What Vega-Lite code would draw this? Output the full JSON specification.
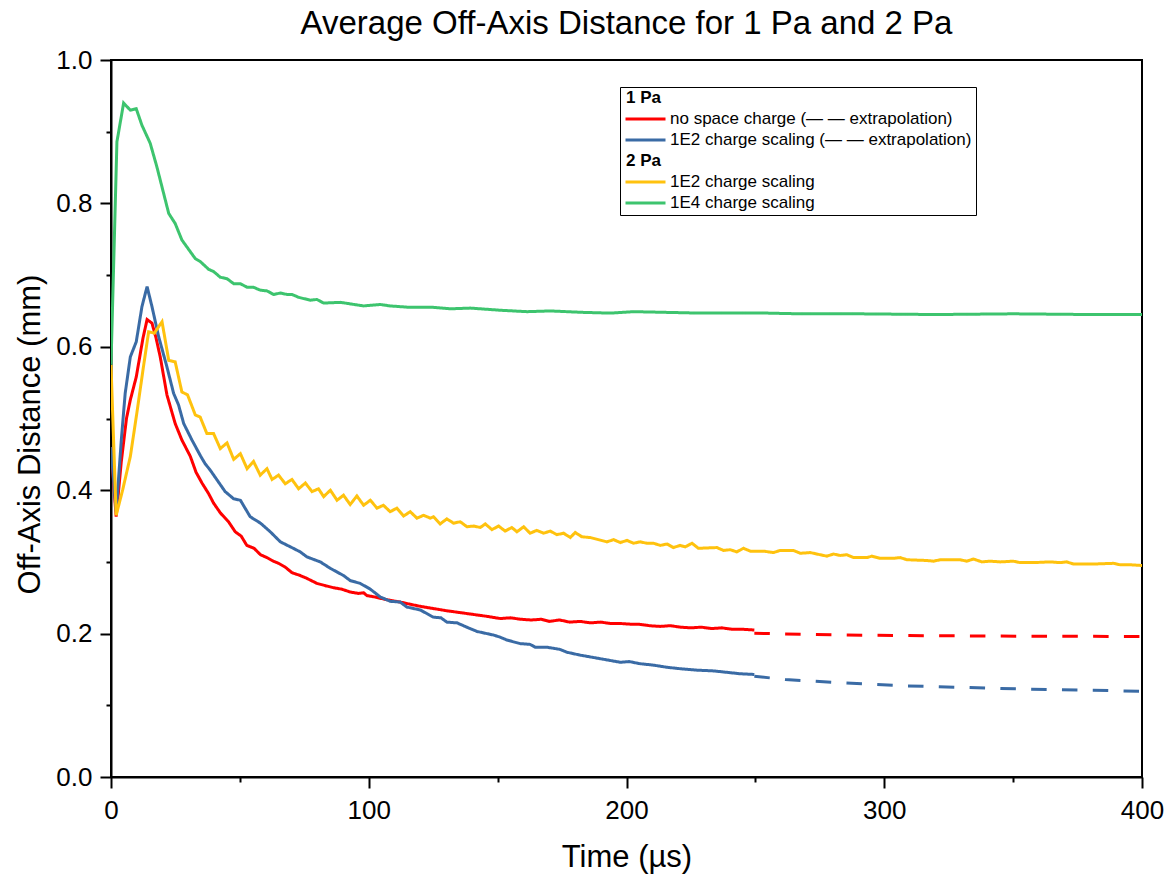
{
"$schema": "https://vega.github.io/schema/vega-lite/v6.json",
"autosize": {"type": "none"},
"padding": {"left": 111, "top": 60, "right": 29, "bottom": 104},
"width": 1031,
"height": 717,
"background": "white",
"title": {"text": "Average Off-Axis Distance for 1 Pa and 2 Pa", "font": "Liberation Sans", "fontSize": 33, "fontWeight": "normal", "color": "black", "anchor": "middle", "frame": "group", "baseline": "top", "offset": 6},
"config": {
  "view": {"stroke": "black", "strokeWidth": 2},
  "axis": {"domainColor": "black", "domainWidth": 2, "tickColor": "black", "tickWidth": 2, "labelColor": "black", "titleColor": "black", "labelFont": "Liberation Sans", "titleFont": "Liberation Sans", "labelFontSize": 26, "titleFontSize": 31, "titleFontWeight": "normal", "grid": false}
},
"data": {"values": [
{"s":"a","p":"solid","t":0,"y":0.46},{"s":"a","p":"solid","t":2,"y":0.363},{"s":"a","p":"solid","t":4,"y":0.44},{"s":"a","p":"solid","t":6,"y":0.5},{"s":"a","p":"solid","t":7.5,"y":0.526},{"s":"a","p":"solid","t":9.8,"y":0.558},{"s":"a","p":"solid","t":12.4,"y":0.612},{"s":"a","p":"solid","t":14,"y":0.638},{"s":"a","p":"solid","t":15.9,"y":0.633},{"s":"a","p":"solid","t":17.5,"y":0.612},{"s":"a","p":"solid","t":19.1,"y":0.586},{"s":"a","p":"solid","t":21.7,"y":0.533},{"s":"a","p":"solid","t":24.9,"y":0.493},{"s":"a","p":"solid","t":27.5,"y":0.47},{"s":"a","p":"solid","t":30.8,"y":0.447},{"s":"a","p":"solid","t":33,"y":0.425},{"s":"a","p":"solid","t":35.3,"y":0.41},{"s":"a","p":"solid","t":37.9,"y":0.395},{"s":"a","p":"solid","t":39.8,"y":0.382},{"s":"a","p":"solid","t":42.5,"y":0.368},{"s":"a","p":"solid","t":45.6,"y":0.356},{"s":"a","p":"solid","t":48.2,"y":0.342},{"s":"a","p":"solid","t":50.5,"y":0.336},{"s":"a","p":"solid","t":52.7,"y":0.323},{"s":"a","p":"solid","t":55.5,"y":0.319},{"s":"a","p":"solid","t":58,"y":0.31},{"s":"a","p":"solid","t":60.5,"y":0.306},{"s":"a","p":"solid","t":63,"y":0.301},{"s":"a","p":"solid","t":65,"y":0.298},{"s":"a","p":"solid","t":67.5,"y":0.293},{"s":"a","p":"solid","t":70.2,"y":0.285},{"s":"a","p":"solid","t":73.4,"y":0.281},{"s":"a","p":"solid","t":76,"y":0.277},{"s":"a","p":"solid","t":79.9,"y":0.27},{"s":"a","p":"solid","t":83,"y":0.267},{"s":"a","p":"solid","t":86.3,"y":0.264},{"s":"a","p":"solid","t":89.5,"y":0.262},{"s":"a","p":"solid","t":92.8,"y":0.258},{"s":"a","p":"solid","t":96,"y":0.256},{"s":"a","p":"solid","t":98,"y":0.257},{"s":"a","p":"solid","t":99.3,"y":0.253},{"s":"a","p":"solid","t":102.5,"y":0.251},{"s":"a","p":"solid","t":106,"y":0.248},{"s":"a","p":"solid","t":109,"y":0.246},{"s":"a","p":"solid","t":112.2,"y":0.244},{"s":"a","p":"solid","t":116,"y":0.241},{"s":"a","p":"solid","t":120,"y":0.238},{"s":"a","p":"solid","t":125,"y":0.235},{"s":"a","p":"solid","t":130,"y":0.232},{"s":"a","p":"solid","t":134,"y":0.23},{"s":"a","p":"solid","t":138,"y":0.228},{"s":"a","p":"solid","t":142,"y":0.226},{"s":"a","p":"solid","t":146,"y":0.224},{"s":"a","p":"solid","t":151,"y":0.221},{"s":"a","p":"solid","t":155,"y":0.222},{"s":"a","p":"solid","t":159,"y":0.22},{"s":"a","p":"solid","t":163,"y":0.219},{"s":"a","p":"solid","t":167,"y":0.22},{"s":"a","p":"solid","t":170,"y":0.217},{"s":"a","p":"solid","t":174,"y":0.219},{"s":"a","p":"solid","t":178,"y":0.216},{"s":"a","p":"solid","t":182,"y":0.217},{"s":"a","p":"solid","t":186,"y":0.215},{"s":"a","p":"solid","t":190,"y":0.216},{"s":"a","p":"solid","t":194,"y":0.214},{"s":"a","p":"solid","t":198,"y":0.214},{"s":"a","p":"solid","t":202,"y":0.213},{"s":"a","p":"solid","t":205,"y":0.213},{"s":"a","p":"solid","t":209,"y":0.211},{"s":"a","p":"solid","t":213,"y":0.21},{"s":"a","p":"solid","t":217,"y":0.211},{"s":"a","p":"solid","t":221,"y":0.209},{"s":"a","p":"solid","t":225,"y":0.208},{"s":"a","p":"solid","t":229,"y":0.209},{"s":"a","p":"solid","t":233,"y":0.207},{"s":"a","p":"solid","t":237,"y":0.208},{"s":"a","p":"solid","t":241,"y":0.206},{"s":"a","p":"solid","t":245,"y":0.206},{"s":"a","p":"solid","t":249.6,"y":0.205},
{"s":"a","p":"dash","t":249.6,"y":0.2005},{"s":"a","p":"dash","t":261,"y":0.1995},{"s":"a","p":"dash","t":285,"y":0.198},{"s":"a","p":"dash","t":320,"y":0.197},{"s":"a","p":"dash","t":345,"y":0.1965},{"s":"a","p":"dash","t":400,"y":0.196},
{"s":"b","p":"solid","t":0,"y":0.46},{"s":"b","p":"solid","t":2,"y":0.37},{"s":"b","p":"solid","t":4,"y":0.47},{"s":"b","p":"solid","t":5.5,"y":0.535},{"s":"b","p":"solid","t":7.5,"y":0.586},{"s":"b","p":"solid","t":9.8,"y":0.607},{"s":"b","p":"solid","t":12,"y":0.656},{"s":"b","p":"solid","t":14,"y":0.684},{"s":"b","p":"solid","t":15.9,"y":0.656},{"s":"b","p":"solid","t":18.5,"y":0.614},{"s":"b","p":"solid","t":21.7,"y":0.572},{"s":"b","p":"solid","t":24.3,"y":0.535},{"s":"b","p":"solid","t":26.2,"y":0.519},{"s":"b","p":"solid","t":28.2,"y":0.493},{"s":"b","p":"solid","t":31.4,"y":0.47},{"s":"b","p":"solid","t":34.7,"y":0.448},{"s":"b","p":"solid","t":36.5,"y":0.437},{"s":"b","p":"solid","t":38.5,"y":0.428},{"s":"b","p":"solid","t":41,"y":0.415},{"s":"b","p":"solid","t":44.3,"y":0.398},{"s":"b","p":"solid","t":47.6,"y":0.388},{"s":"b","p":"solid","t":50.2,"y":0.386},{"s":"b","p":"solid","t":54,"y":0.363},{"s":"b","p":"solid","t":58,"y":0.354},{"s":"b","p":"solid","t":61.8,"y":0.342},{"s":"b","p":"solid","t":65.7,"y":0.328},{"s":"b","p":"solid","t":69.6,"y":0.321},{"s":"b","p":"solid","t":73.4,"y":0.314},{"s":"b","p":"solid","t":76,"y":0.307},{"s":"b","p":"solid","t":81.2,"y":0.3},{"s":"b","p":"solid","t":85.1,"y":0.291},{"s":"b","p":"solid","t":90.2,"y":0.281},{"s":"b","p":"solid","t":92.8,"y":0.274},{"s":"b","p":"solid","t":96.7,"y":0.27},{"s":"b","p":"solid","t":100.6,"y":0.262},{"s":"b","p":"solid","t":104.5,"y":0.251},{"s":"b","p":"solid","t":108.4,"y":0.245},{"s":"b","p":"solid","t":112.2,"y":0.244},{"s":"b","p":"solid","t":114.8,"y":0.237},{"s":"b","p":"solid","t":120,"y":0.233},{"s":"b","p":"solid","t":125,"y":0.223},{"s":"b","p":"solid","t":128,"y":0.222},{"s":"b","p":"solid","t":130.3,"y":0.216},{"s":"b","p":"solid","t":134.2,"y":0.215},{"s":"b","p":"solid","t":138,"y":0.209},{"s":"b","p":"solid","t":142,"y":0.203},{"s":"b","p":"solid","t":145.8,"y":0.2},{"s":"b","p":"solid","t":148.4,"y":0.198},{"s":"b","p":"solid","t":151,"y":0.195},{"s":"b","p":"solid","t":153.6,"y":0.191},{"s":"b","p":"solid","t":158.8,"y":0.186},{"s":"b","p":"solid","t":162.6,"y":0.185},{"s":"b","p":"solid","t":164.6,"y":0.181},{"s":"b","p":"solid","t":169.1,"y":0.181},{"s":"b","p":"solid","t":174.2,"y":0.178},{"s":"b","p":"solid","t":176.9,"y":0.174},{"s":"b","p":"solid","t":182,"y":0.17},{"s":"b","p":"solid","t":189.8,"y":0.165},{"s":"b","p":"solid","t":197.6,"y":0.16},{"s":"b","p":"solid","t":201,"y":0.161},{"s":"b","p":"solid","t":205.3,"y":0.158},{"s":"b","p":"solid","t":210.5,"y":0.156},{"s":"b","p":"solid","t":215.7,"y":0.153},{"s":"b","p":"solid","t":220.9,"y":0.151},{"s":"b","p":"solid","t":227.3,"y":0.149},{"s":"b","p":"solid","t":233.7,"y":0.148},{"s":"b","p":"solid","t":238.9,"y":0.146},{"s":"b","p":"solid","t":244.1,"y":0.144},{"s":"b","p":"solid","t":249.6,"y":0.143},
{"s":"b","p":"dash","t":249.6,"y":0.1405},{"s":"b","p":"dash","t":261.6,"y":0.136},{"s":"b","p":"dash","t":285,"y":0.131},{"s":"b","p":"dash","t":309,"y":0.127},{"s":"b","p":"dash","t":333,"y":0.1247},{"s":"b","p":"dash","t":357,"y":0.1224},{"s":"b","p":"dash","t":381,"y":0.121},{"s":"b","p":"dash","t":400,"y":0.1195},
{"s":"c","p":"solid","t":0,"y":0.575},{"s":"c","p":"solid","t":2,"y":0.365},{"s":"c","p":"solid","t":4.5,"y":0.4},{"s":"c","p":"solid","t":7.5,"y":0.447},{"s":"c","p":"solid","t":10,"y":0.507},{"s":"c","p":"solid","t":12.5,"y":0.57},{"s":"c","p":"solid","t":14.6,"y":0.621},{"s":"c","p":"solid","t":16.8,"y":0.619},{"s":"c","p":"solid","t":19.8,"y":0.635},{"s":"c","p":"solid","t":22.4,"y":0.581},{"s":"c","p":"solid","t":24.9,"y":0.579},{"s":"c","p":"solid","t":27.5,"y":0.537},{"s":"c","p":"solid","t":29.7,"y":0.533},{"s":"c","p":"solid","t":32.7,"y":0.505},{"s":"c","p":"solid","t":34.6,"y":0.502},{"s":"c","p":"solid","t":37.2,"y":0.479},{"s":"c","p":"solid","t":39.8,"y":0.479},{"s":"c","p":"solid","t":42.4,"y":0.458},{"s":"c","p":"solid","t":45,"y":0.466},{"s":"c","p":"solid","t":47.6,"y":0.443},{"s":"c","p":"solid","t":50.2,"y":0.451},{"s":"c","p":"solid","t":52.8,"y":0.43},{"s":"c","p":"solid","t":55.3,"y":0.44},{"s":"c","p":"solid","t":57.9,"y":0.421},{"s":"c","p":"solid","t":60.5,"y":0.43},{"s":"c","p":"solid","t":62.5,"y":0.415},{"s":"c","p":"solid","t":65,"y":0.421},{"s":"c","p":"solid","t":67.6,"y":0.409},{"s":"c","p":"solid","t":70.2,"y":0.415},{"s":"c","p":"solid","t":72.8,"y":0.402},{"s":"c","p":"solid","t":75.4,"y":0.41},{"s":"c","p":"solid","t":78,"y":0.398},{"s":"c","p":"solid","t":80.5,"y":0.402},{"s":"c","p":"solid","t":82.5,"y":0.391},{"s":"c","p":"solid","t":85.1,"y":0.4},{"s":"c","p":"solid","t":87.7,"y":0.386},{"s":"c","p":"solid","t":90.2,"y":0.393},{"s":"c","p":"solid","t":92.8,"y":0.38},{"s":"c","p":"solid","t":95.4,"y":0.392},{"s":"c","p":"solid","t":98,"y":0.379},{"s":"c","p":"solid","t":100.6,"y":0.386},{"s":"c","p":"solid","t":103.2,"y":0.375},{"s":"c","p":"solid","t":105.7,"y":0.379},{"s":"c","p":"solid","t":108.3,"y":0.37},{"s":"c","p":"solid","t":110.9,"y":0.375},{"s":"c","p":"solid","t":113.5,"y":0.364},{"s":"c","p":"solid","t":116.1,"y":0.37},{"s":"c","p":"solid","t":118.7,"y":0.361},{"s":"c","p":"solid","t":121.3,"y":0.365},{"s":"c","p":"solid","t":123.9,"y":0.361},{"s":"c","p":"solid","t":125.1,"y":0.363},{"s":"c","p":"solid","t":127.7,"y":0.353},{"s":"c","p":"solid","t":130.3,"y":0.36},{"s":"c","p":"solid","t":132.9,"y":0.354},{"s":"c","p":"solid","t":135.5,"y":0.356},{"s":"c","p":"solid","t":138.1,"y":0.349},{"s":"c","p":"solid","t":140.7,"y":0.35},{"s":"c","p":"solid","t":143.3,"y":0.348},{"s":"c","p":"solid","t":145.2,"y":0.353},{"s":"c","p":"solid","t":147.8,"y":0.345},{"s":"c","p":"solid","t":150.4,"y":0.35},{"s":"c","p":"solid","t":152.9,"y":0.343},{"s":"c","p":"solid","t":155.5,"y":0.348},{"s":"c","p":"solid","t":157.5,"y":0.342},{"s":"c","p":"solid","t":160.1,"y":0.349},{"s":"c","p":"solid","t":162.6,"y":0.34},{"s":"c","p":"solid","t":165.2,"y":0.344},{"s":"c","p":"solid","t":167.8,"y":0.34},{"s":"c","p":"solid","t":170.4,"y":0.343},{"s":"c","p":"solid","t":173,"y":0.338},{"s":"c","p":"solid","t":175.6,"y":0.34},{"s":"c","p":"solid","t":178.2,"y":0.334},{"s":"c","p":"solid","t":180.1,"y":0.341},{"s":"c","p":"solid","t":182.7,"y":0.335},{"s":"c","p":"solid","t":185.9,"y":0.334},{"s":"c","p":"solid","t":192.4,"y":0.328},{"s":"c","p":"solid","t":195,"y":0.331},{"s":"c","p":"solid","t":197.6,"y":0.327},{"s":"c","p":"solid","t":200.2,"y":0.33},{"s":"c","p":"solid","t":202.7,"y":0.326},{"s":"c","p":"solid","t":205.3,"y":0.328},{"s":"c","p":"solid","t":207.9,"y":0.326},{"s":"c","p":"solid","t":210.5,"y":0.326},{"s":"c","p":"solid","t":213.1,"y":0.323},{"s":"c","p":"solid","t":215.7,"y":0.325},{"s":"c","p":"solid","t":218.2,"y":0.32},{"s":"c","p":"solid","t":220.8,"y":0.323},{"s":"c","p":"solid","t":222.8,"y":0.321},{"s":"c","p":"solid","t":225.4,"y":0.326},{"s":"c","p":"solid","t":227.9,"y":0.319},{"s":"c","p":"solid","t":235.1,"y":0.32},{"s":"c","p":"solid","t":237.6,"y":0.316},{"s":"c","p":"solid","t":240.2,"y":0.317},{"s":"c","p":"solid","t":242.8,"y":0.314},{"s":"c","p":"solid","t":245.4,"y":0.319},{"s":"c","p":"solid","t":248,"y":0.315},{"s":"c","p":"solid","t":253.1,"y":0.315},{"s":"c","p":"solid","t":257,"y":0.313},{"s":"c","p":"solid","t":259.6,"y":0.316},{"s":"c","p":"solid","t":264.8,"y":0.316},{"s":"c","p":"solid","t":267.4,"y":0.312},{"s":"c","p":"solid","t":271.3,"y":0.313},{"s":"c","p":"solid","t":277.7,"y":0.308},{"s":"c","p":"solid","t":280.3,"y":0.311},{"s":"c","p":"solid","t":282.9,"y":0.309},{"s":"c","p":"solid","t":285.5,"y":0.31},{"s":"c","p":"solid","t":288.1,"y":0.306},{"s":"c","p":"solid","t":293.2,"y":0.306},{"s":"c","p":"solid","t":295.2,"y":0.308},{"s":"c","p":"solid","t":298.4,"y":0.305},{"s":"c","p":"solid","t":303.6,"y":0.305},{"s":"c","p":"solid","t":306.2,"y":0.306},{"s":"c","p":"solid","t":308.8,"y":0.303},{"s":"c","p":"solid","t":316.5,"y":0.302},{"s":"c","p":"solid","t":319.1,"y":0.301},{"s":"c","p":"solid","t":321.7,"y":0.303},{"s":"c","p":"solid","t":329.5,"y":0.303},{"s":"c","p":"solid","t":332,"y":0.301},{"s":"c","p":"solid","t":334.6,"y":0.304},{"s":"c","p":"solid","t":337.9,"y":0.3},{"s":"c","p":"solid","t":341.1,"y":0.301},{"s":"c","p":"solid","t":345,"y":0.3},{"s":"c","p":"solid","t":350.1,"y":0.301},{"s":"c","p":"solid","t":352.7,"y":0.299},{"s":"c","p":"solid","t":357.9,"y":0.299},{"s":"c","p":"solid","t":364.3,"y":0.3},{"s":"c","p":"solid","t":368.2,"y":0.299},{"s":"c","p":"solid","t":370.8,"y":0.3},{"s":"c","p":"solid","t":373.4,"y":0.297},{"s":"c","p":"solid","t":381.2,"y":0.297},{"s":"c","p":"solid","t":388.9,"y":0.298},{"s":"c","p":"solid","t":391.5,"y":0.296},{"s":"c","p":"solid","t":395.4,"y":0.296},{"s":"c","p":"solid","t":400,"y":0.295},
{"s":"d","p":"solid","t":0,"y":0.575},{"s":"d","p":"solid","t":2.3,"y":0.886},{"s":"d","p":"solid","t":4.9,"y":0.94},{"s":"d","p":"solid","t":7.5,"y":0.93},{"s":"d","p":"solid","t":9.8,"y":0.932},{"s":"d","p":"solid","t":12,"y":0.909},{"s":"d","p":"solid","t":15.2,"y":0.884},{"s":"d","p":"solid","t":17.8,"y":0.851},{"s":"d","p":"solid","t":22.4,"y":0.786},{"s":"d","p":"solid","t":24.9,"y":0.772},{"s":"d","p":"solid","t":27.5,"y":0.749},{"s":"d","p":"solid","t":32.7,"y":0.723},{"s":"d","p":"solid","t":34.6,"y":0.719},{"s":"d","p":"solid","t":37.9,"y":0.708},{"s":"d","p":"solid","t":39.8,"y":0.705},{"s":"d","p":"solid","t":42.4,"y":0.697},{"s":"d","p":"solid","t":45,"y":0.695},{"s":"d","p":"solid","t":47.6,"y":0.688},{"s":"d","p":"solid","t":50.2,"y":0.688},{"s":"d","p":"solid","t":52.8,"y":0.683},{"s":"d","p":"solid","t":55.3,"y":0.683},{"s":"d","p":"solid","t":57.9,"y":0.679},{"s":"d","p":"solid","t":60.5,"y":0.678},{"s":"d","p":"solid","t":63.1,"y":0.673},{"s":"d","p":"solid","t":65.7,"y":0.675},{"s":"d","p":"solid","t":68.3,"y":0.673},{"s":"d","p":"solid","t":70.2,"y":0.673},{"s":"d","p":"solid","t":72.8,"y":0.669},{"s":"d","p":"solid","t":77.3,"y":0.665},{"s":"d","p":"solid","t":79.9,"y":0.666},{"s":"d","p":"solid","t":82.5,"y":0.661},{"s":"d","p":"solid","t":89,"y":0.662},{"s":"d","p":"solid","t":98,"y":0.657},{"s":"d","p":"solid","t":104.5,"y":0.659},{"s":"d","p":"solid","t":108.3,"y":0.657},{"s":"d","p":"solid","t":116,"y":0.655},{"s":"d","p":"solid","t":125,"y":0.655},{"s":"d","p":"solid","t":131.6,"y":0.653},{"s":"d","p":"solid","t":139.4,"y":0.654},{"s":"d","p":"solid","t":151,"y":0.651},{"s":"d","p":"solid","t":161.4,"y":0.649},{"s":"d","p":"solid","t":170.4,"y":0.65},{"s":"d","p":"solid","t":183.3,"y":0.648},{"s":"d","p":"solid","t":193.7,"y":0.647},{"s":"d","p":"solid","t":202.7,"y":0.649},{"s":"d","p":"solid","t":215.7,"y":0.648},{"s":"d","p":"solid","t":228.6,"y":0.647},{"s":"d","p":"solid","t":241.5,"y":0.647},{"s":"d","p":"solid","t":254.5,"y":0.647},{"s":"d","p":"solid","t":267.4,"y":0.646},{"s":"d","p":"solid","t":290,"y":0.646},{"s":"d","p":"solid","t":320,"y":0.645},{"s":"d","p":"solid","t":350,"y":0.646},{"s":"d","p":"solid","t":380,"y":0.645},{"s":"d","p":"solid","t":400,"y":0.645}
]},
"mark": {"type": "line", "strokeWidth": 3, "clip": true},
"encoding": {
  "x": {"field": "t", "type": "quantitative", "title": "Time (µs)",
    "scale": {"domain": [0, 400], "nice": false},
    "axis": {"values": [0, 50, 100, 150, 200, 250, 300, 350, 400], "labelExpr": "datum.value % 100 == 0 ? datum.value : ''", "tickSize": {"condition": {"test": "datum.value % 100 != 0", "value": 5}, "value": 11}, "labelPadding": 9, "titlePadding": 19, "labelFlush": false}},
  "y": {"field": "y", "type": "quantitative", "title": "Off-Axis Distance (mm)",
    "scale": {"domain": [0, 1], "nice": false},
    "axis": {"values": [0, 0.1, 0.2, 0.3, 0.4, 0.5, 0.6, 0.7, 0.8, 0.9, 1.0], "labelExpr": "round(datum.value*10) % 2 == 0 ? format(datum.value, '.1f') : ''", "tickSize": {"condition": {"test": "round(datum.value*10) % 2 == 1", "value": 5}, "value": 11}, "labelPadding": 8, "titlePadding": 6, "titleX": -65, "titleY": 374, "labelFlush": false}},
  "color": {"field": "s", "type": "nominal",
    "scale": {"domain": ["h1", "a", "b", "h2", "c", "d"], "range": ["#ffffff", "#ff0000", "#3a6ba5", "#ffffff", "#ffc20e", "#3dc46e"]},
    "legend": {"orient": "none", "legendX": 509, "legendY": 27, "title": null, "symbolType": "stroke", "symbolSize": 1600, "symbolStrokeWidth": 3, "clipHeight": 14, "rowPadding": 4, "labelFont": "Liberation Sans", "labelFontSize": 17, "labelColor": "black", "labelOffset": 3, "labelLimit": 500, "strokeColor": "black", "fillColor": "white", "padding": 4,
      "labelExpr": "datum.value == 'h1' ? '1 Pa' : datum.value == 'a' ? 'no space charge (— — extrapolation)' : datum.value == 'b' ? '1E2 charge scaling (— — extrapolation)' : datum.value == 'h2' ? '2 Pa' : datum.value == 'c' ? '1E2 charge scaling' : '1E4 charge scaling'",
      "encode": {"labels": {"update": {"fontWeight": {"signal": "datum.value == 'h1' || datum.value == 'h2' ? 'bold' : 'normal'"}, "dx": {"signal": "datum.value == 'h1' || datum.value == 'h2' ? -44 : 0"}}}}}},
  "strokeDash": {"field": "p", "type": "nominal", "scale": {"domain": ["solid", "dash"], "range": [[1, 0], [15.5, 15.3]]}, "legend": null}
}
}
